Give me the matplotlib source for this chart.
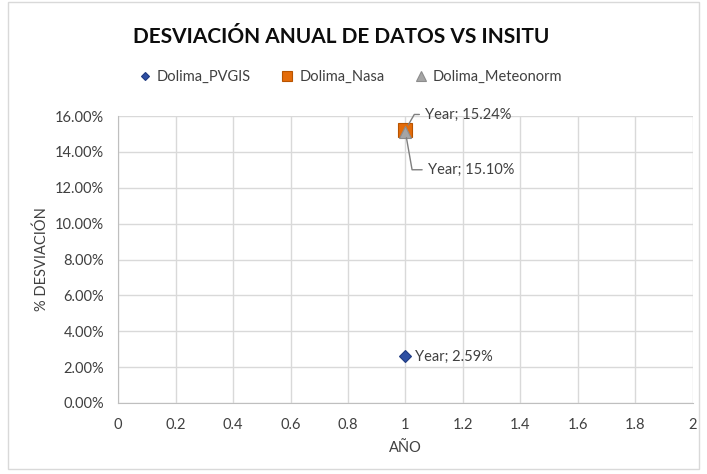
import matplotlib.pyplot as plt
from matplotlib.ticker import PercentFormatter, MultipleLocator
from matplotlib.patches import Rectangle

plt.rcParams['font.family'] = ['Lato', 'DejaVu Sans']

# datos
series = ['Dolima_PVGIS', 'Dolima_Nasa', 'Dolima_Meteonorm']
x_vals = [1, 1, 1]
y_vals = [0.0259, 0.1524, 0.1510]
x_ticks = [0, 0.2, 0.4, 0.6, 0.8, 1, 1.2, 1.4, 1.6, 1.8, 2]
x_tick_labels = ['0', '0.2', '0.4', '0.6', '0.8', '1', '1.2', '1.4', '1.6', '1.8', '2']
markers = ['D', 's', '^']
colors = ['#2E4FA3', '#E46C0A', '#A5A5A5']
edges = ['#1F3A80', '#B85400', '#8C8C8C']
sizes = [6, 10, 9]
# desplazamiento de etiquetas (pt)
offsets = [(7, 0), (14, 11), (16, -27)]

fig = plt.figure(figsize=(7.07, 4.74), dpi=100)
ax = fig.add_axes([0.167, 0.150, 0.813, 0.605])

for i in range(len(series)):
    ax.plot(x_vals[i], y_vals[i], linestyle='none', marker=markers[i], markersize=sizes[i],
            markerfacecolor=colors[i], markeredgecolor=edges[i], markeredgewidth=0.8,
            label=series[i], zorder=3)

for i in range(len(series)):
    txt = 'Year; {:.2f}%'.format(y_vals[i] * 100)
    dx, dy = offsets[i]
    if i == 0:
        ax.annotate(txt, (x_vals[i], y_vals[i]), xytext=(dx, dy), textcoords='offset points',
                    ha='left', va='center', fontsize=10.5, color='#404040')
    else:
        ax.annotate(txt, (x_vals[i], y_vals[i]), xytext=(dx, dy), textcoords='offset points',
                    ha='left', va='center', fontsize=10.5, color='#404040',
                    arrowprops=dict(arrowstyle='-', color='#7F7F7F', lw=1,
                                    shrinkA=2, shrinkB=4, relpos=(0, 0.5),
                                    connectionstyle='angle,angleA=180,angleB=%d,rad=0' % (60 if dy > 0 else -80)))

ax.set_xlim(0, 2)
ax.set_ylim(0, 0.16)
ax.yaxis.set_major_locator(MultipleLocator(0.02))
ax.yaxis.set_major_formatter(PercentFormatter(1.0, decimals=2))
ax.set_xticks(x_ticks)
ax.set_xticklabels(x_tick_labels)
ax.grid(color='#D9D9D9', linewidth=1)
ax.set_axisbelow(True)
ax.tick_params(length=0, labelsize=10.5, colors='#404040')
ax.tick_params(axis='y', pad=10)
ax.tick_params(axis='x', pad=11)
for s in ['top', 'right']:
    ax.spines[s].set_visible(False)
ax.spines['left'].set_color('#BFBFBF')
ax.spines['bottom'].set_color('#BFBFBF')

ax.set_xlabel('AÑO', fontsize=10.5, color='#404040', labelpad=6)
ax.set_ylabel('% DESVIACIÓN', fontsize=10.5, color='#404040', labelpad=4)

fig.text(0.482, 0.922, 'DESVIACIÓN ANUAL DE DATOS VS INSITU', ha='center', va='center',
         fontsize=15, fontweight='bold', color='#0D0D0D')
ax.legend(loc='center', bbox_to_anchor=(0.495, 0.838), bbox_transform=fig.transFigure, ncol=3,
          frameon=False, fontsize=10.5, handletextpad=0.3, columnspacing=2.0, handlelength=1,
          markerscale=0.75, labelcolor='#404040')

fig.patches.append(Rectangle((0.012, 0.01), 0.976, 0.985, transform=fig.transFigure,
                             fill=False, edgecolor='#D9D9D9', linewidth=1))

plt.savefig('out.png', dpi=100)
